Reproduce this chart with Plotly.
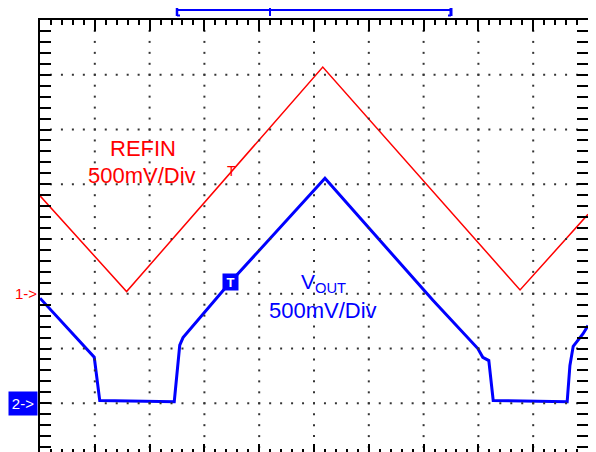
import numpy as np
import plotly.graph_objects as go

# ---- data (screen divisions: x = time div 0..10, y = vertical div from bottom) ----
refin_x = [0.0, 1.58, 5.16, 8.76, 10.0]
refin_y = [4.79, 3.04, 7.14, 3.07, 4.45]

vout_x = [0.0, 0.99, 1.09, 2.45, 2.55, 2.61, 3.47, 5.20, 7.17, 7.99, 8.08, 8.19, 8.27, 9.62, 9.67, 9.73, 9.91, 10.0]
vout_y = [2.92, 1.84, 1.05, 1.03, 2.06, 2.20, 3.21, 5.11, 2.88, 2.00, 1.84, 1.78, 1.05, 1.03, 1.69, 2.04, 2.27, 2.42]

ch1_ref = 3.0   # channel 1 ground marker (div)
ch2_ref = 1.0   # channel 2 ground marker (div)
trig_x = 3.48   # trigger point on VOUT (div)
trig_y = 3.21
reflvl_x = 3.49  # trigger level marker on REFIN
reflvl_y = 5.25

label_refin = ["REFIN", "500mV/Div"]
label_vout = ["V<sub>OUT</sub>", "500mV/Div"]

RED = "#ff0000"
BLUE = "#0000ff"
FONT = "Liberation Sans, Arial, sans-serif"

XR = [0, 10]
YR = [0.11, 8]

# page body has an 8px default margin: compensate so the plot area sits at 40..588 x 20..452
BODY = 8

# ---- grid dots (oscilloscope dotted graticule) ----
gx, gy = [], []
minor = np.round(np.arange(0.2, 10.0, 0.2), 3)
for xv in range(1, 10):
    for yv in np.round(np.arange(0.2, 8.0, 0.2), 3):
        gx.append(xv); gy.append(yv)
for yv in range(1, 8):
    for xv in minor:
        gx.append(xv); gy.append(yv)

fig = go.Figure()
fig.add_trace(go.Scatter(x=gx, y=gy, mode="markers", xaxis="x2",
                         marker=dict(symbol="square", size=2, color="#333333", line=dict(width=0)),
                         hoverinfo="skip", showlegend=False))
fig.add_trace(go.Scatter(x=refin_x, y=refin_y, mode="lines",
                         line=dict(color=RED, width=1.5), showlegend=False))
fig.add_trace(go.Scatter(x=vout_x, y=vout_y, mode="lines",
                         line=dict(color=BLUE, width=3), showlegend=False))

ann = []
ann.append(dict(x=1.88, y=5.65, text=label_refin[0], font=dict(family=FONT, size=22, color=RED)))
ann.append(dict(x=1.87, y=5.16, text=label_refin[1], font=dict(family=FONT, size=22, color=RED)))
ann.append(dict(x=5.17, y=3.20, text=label_vout[0], font=dict(family=FONT, size=21, color=BLUE)))
ann.append(dict(x=5.16, y=2.70, text=label_vout[1], font=dict(family=FONT, size=22, color=BLUE)))
ann.append(dict(x=reflvl_x, y=reflvl_y, text="T", font=dict(family=FONT, size=14, color=RED)))
ann.append(dict(x=trig_x, y=trig_y, text="<b>T</b>", font=dict(family=FONT, size=13, color="white"),
                bgcolor=BLUE, width=15, height=16, borderpad=0))
for a in ann:
    a.update(xref="x", yref="y", showarrow=False, xanchor="center", yanchor="middle")
ann.append(dict(x=-27/548, y=ch1_ref, xref="paper", yref="y", text="1->", showarrow=False,
                xanchor="left", yanchor="middle", font=dict(family=FONT, size=15, color=RED)))
ann.append(dict(x=-17/548, y=ch2_ref, xref="paper", yref="y", text="2->", showarrow=False,
                xanchor="center", yanchor="middle", bgcolor=BLUE, width=28, height=23, borderpad=0,
                font=dict(family=FONT, size=15, color="white")))

# ---- top time-base bracket ----
def px2p(px):
    return (px - 40) / 548.0

def py2p(py):
    return (452 - py) / 432.0

shapes = []
def seg(x0, y0, x1, y1, w=1.5):
    shapes.append(dict(type="line", xref="paper", yref="paper", x0=px2p(x0), x1=px2p(x1),
                       y0=py2p(y0), y1=py2p(y1), line=dict(color=BLUE, width=w)))

seg(177, 10, 451, 10, 2)
seg(177, 4, 177, 16, 2.5)
seg(177, 4.5, 180, 4.5, 2)
seg(177, 15.5, 180, 15.5, 2)
seg(451, 4, 451, 16, 3)
seg(448, 4.5, 451, 4.5, 2)
seg(448, 15.5, 451, 15.5, 2)
seg(266, 4.5, 274, 4.5, 2)
seg(270, 4, 270, 16, 2)

axcommon = dict(showgrid=False, zeroline=False, showticklabels=False, tickcolor="black")
fig.update_layout(
    width=596 - BODY, height=452 - BODY,
    margin=dict(l=40 - BODY, r=8, t=20 - BODY, b=0, autoexpand=False),
    paper_bgcolor="white", plot_bgcolor="white",
    xaxis=dict(range=XR, side="top", showline=True, linecolor="black", linewidth=2,
               ticks="inside", ticklen=11, tickwidth=1.5, tick0=0, dtick=1,
               minor=dict(ticks="inside", ticklen=5, tickwidth=1.5, tick0=0, dtick=0.2, tickcolor="black", showgrid=False),
               **axcommon),
    xaxis2=dict(range=XR, overlaying="x", side="bottom", anchor="y", showline=False,
                ticks="inside", ticklen=8, tickwidth=1.5, tick0=0, dtick=1,
                minor=dict(ticks="inside", ticklen=3, tickwidth=1.5, tick0=0, dtick=0.2, tickcolor="black", showgrid=False),
                **axcommon),
    yaxis=dict(range=YR, showline=True, linecolor="black", linewidth=2, mirror="allticks",
               ticks="inside", ticklen=11, tickwidth=1.5, tick0=0, dtick=1,
               minor=dict(ticks="inside", ticklen=5, tickwidth=1.5, tick0=0, dtick=0.2, tickcolor="black", showgrid=False),
               **axcommon),
    annotations=ann,
    shapes=shapes,
    showlegend=False,
)

fig.write_html("out.html")
